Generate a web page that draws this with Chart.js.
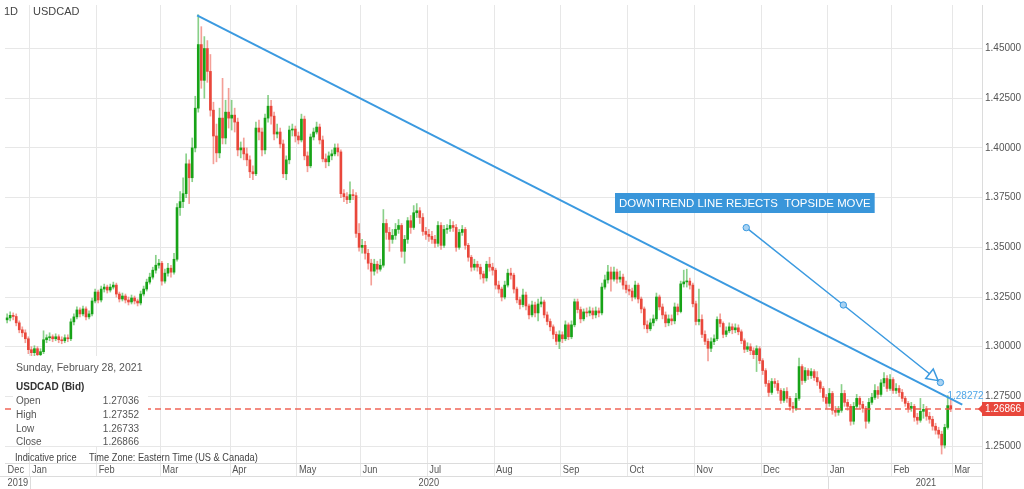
<!DOCTYPE html>
<html>
<head>
<meta charset="utf-8">
<title>USDCAD 1D</title>
<script src="https://cdn.jsdelivr.net/npm/chart.js@4.4.1/dist/chart.umd.min.js"></script>
<style>
  html, body { margin: 0; padding: 0; background: #fff; }
  #wrap { width: 1024px; height: 489px; position: relative; }
</style>
</head>
<body>
<div id="wrap"><canvas id="fxChart" width="1024" height="489"></canvas></div>
<script>
// daily USDCAD bars, Dec 2019 .. Feb 2021, prices in pips (13145 = 1.3145)
const opens = [
  13135,13145,13158,13152,13120,13085,13070,13040,
  12985,12970,12990,12960,12975,13035,13045,13050,13040,13050,13035,13030,13045,13040,13125,13150,13185,13165,13190,13150,13165,13230,13275,
  13235,13290,13300,13285,13300,13310,13265,13240,13255,13235,13225,13245,13230,13220,13265,13290,13325,13350,13385,13410,
  13420,13330,13370,13395,13375,13440,13700,13730,13770,13920,13850,14000,14200,14520,14340,14500,14385,14190,14060,13975,14150,14050,
  14180,14150,14165,14130,13990,14000,13970,13940,13880,13870,14100,14080,13990,14150,14210,14160,14070,14080,14020,13870,13940,14090,
  14095,14060,14040,14145,13960,13910,14055,14080,14105,14040,13945,13930,13960,13970,14000,13980,13770,13755,13740,13765,13760,
  13570,13500,13510,13470,13420,13380,13415,13390,13410,13620,13575,13540,13560,13590,13610,13480,13540,13634,13600,13674,13684,13650,
  13580,13565,13555,13540,13520,13610,13510,13590,13595,13610,13600,13500,13575,13590,13510,13450,13400,13415,13400,13366,13346,13415,13400,
  13385,13310,13290,13250,13310,13370,13360,13290,13236,13212,13260,13205,13160,13210,13170,13215,13225,13160,13127,13100,13062,
  13027,13060,13040,13110,13050,13110,13226,13187,13140,13175,13170,13180,13160,13180,13170,13300,13336,13376,13340,13376,13340,13350,
  13310,13288,13280,13250,13310,13240,13190,13110,13090,13120,13140,13250,13200,13160,13120,13140,13130,13200,13177,13316,13326,13330,
  13310,13216,13127,13137,13062,13027,12992,13025,13040,13137,13117,13062,13080,13100,13085,13095,13075,13030,12987,13000,12980,
  12960,12990,12930,12880,12815,12770,12825,12815,12780,12730,12775,12740,12700,12690,12740,12900,12830,12880,12855,12875,12845,12823,12790,
  12745,12715,12765,12680,12670,12680,12765,12720,12700,12625,12700,12740,12710,12690,12625,12720,12745,12780,12760,12818,12840,
  12790,12835,12780,12790,12770,12740,12715,12690,12700,12645,12630,12675,12685,12650,12635,12600,12580,12560,12505,12594,12703.6
];
const highs = [
  13165,13175,13170,13165,13130,13100,13085,13050,
  13000,13005,13000,12990,13080,13060,13070,13060,13065,13060,13050,13060,13060,13140,13165,13200,13195,13205,13200,13180,13245,13290,13285,
  13305,13315,13310,13315,13325,13320,13275,13270,13265,13250,13260,13255,13240,13280,13305,13340,13370,13400,13460,13440,
  13430,13390,13420,13410,13470,13720,13780,13850,13970,13940,14050,14260,14670,14610,14560,14540,14470,14230,14120,14200,14350,14240,
  14300,14240,14200,14150,14030,14050,14000,13960,13910,14130,14140,14100,14170,14265,14240,14180,14120,14100,14040,13960,14110,14120,
  14110,14080,14170,14160,13980,14070,14100,14130,14120,14060,13970,13980,13990,14020,14020,13990,13790,13775,13830,13790,13775,
  13620,13540,13530,13490,13440,13440,13430,13440,13690,13640,13600,13590,13620,13640,13620,13560,13650,13660,13710,13720,13700,13670,
  13600,13590,13580,13560,13630,13625,13610,13615,13640,13630,13615,13590,13610,13600,13520,13460,13440,13430,13415,13380,13430,13450,13420,
  13395,13330,13300,13330,13390,13395,13370,13300,13250,13290,13275,13215,13230,13225,13240,13250,13235,13175,13140,13110,13075,
  13080,13075,13130,13120,13130,13240,13240,13200,13190,13195,13200,13195,13200,13195,13320,13360,13410,13400,13400,13390,13380,13365,
  13330,13310,13295,13330,13320,13250,13200,13130,13140,13160,13270,13260,13215,13175,13160,13160,13220,13215,13330,13385,13390,13345,
  13320,13230,13290,13160,13080,13040,13045,13060,13150,13165,13125,13100,13120,13115,13115,13110,13085,13040,13020,13015,12995,
  13005,13000,12940,12890,12830,12840,12840,12830,12790,12790,12795,12750,12720,12765,12943,12910,12895,12890,12890,12885,12875,12830,12800,
  12760,12790,12775,12700,12700,12810,12780,12735,12710,12720,12760,12750,12725,12700,12740,12765,12810,12800,12835,12870,12855,
  12860,12845,12815,12805,12785,12750,12725,12720,12710,12665,12740,12710,12700,12670,12650,12615,12595,12575,12610,12754,12735.2
];
const lows = [
  13120,13130,13135,13105,13070,13050,13020,12965,
  12950,12955,12945,12950,12965,13020,13030,13025,13030,13020,13015,13020,13025,13030,13110,13140,13150,13155,13135,13140,13155,13220,13220,
  13225,13275,13270,13275,13290,13250,13225,13230,13220,13210,13215,13215,13205,13210,13255,13280,13315,13340,13370,13395,
  13310,13320,13355,13350,13365,13430,13660,13700,13750,13720,13830,13980,14180,14300,14250,14330,14160,13920,13930,13950,14020,14020,
  14100,14090,14080,13960,13950,13940,13910,13850,13840,13860,14040,13960,13970,14130,14120,14040,14050,14000,13850,13840,13920,14060,
  14030,14020,14030,13940,13880,13900,14040,14070,14020,13930,13900,13910,13940,13960,13960,13750,13730,13720,13725,13740,13550,
  13480,13470,13440,13390,13310,13360,13370,13380,13400,13540,13480,13520,13540,13570,13450,13420,13520,13570,13590,13650,13620,13560,
  13540,13530,13520,13500,13505,13490,13500,13570,13580,13580,13480,13490,13560,13490,13430,13380,13385,13380,13340,13320,13330,13380,13360,
  13290,13270,13230,13240,13300,13340,13270,13220,13190,13200,13185,13140,13150,13150,13130,13200,13145,13110,13080,13040,13010,
  12990,13020,13030,13035,13040,13100,13170,13120,13130,13150,13155,13140,13145,13150,13160,13290,13320,13280,13330,13320,13325,13290,
  13270,13260,13230,13240,13220,13170,13090,13070,13080,13105,13130,13185,13140,13100,13105,13110,13115,13160,13170,13300,13300,13290,
  13200,13110,13110,13045,13010,12928,12975,13010,13030,13100,13045,13050,13070,13065,13070,13060,13015,12970,12975,12960,12940,
  12875,12915,12860,12800,12750,12760,12795,12765,12715,12720,12720,12680,12670,12680,12730,12810,12820,12835,12840,12830,12805,12770,12725,
  12690,12700,12660,12650,12655,12670,12700,12680,12605,12610,12690,12690,12670,12590,12615,12710,12735,12740,12750,12800,12775,
  12780,12765,12765,12750,12725,12700,12670,12675,12625,12610,12620,12640,12630,12615,12580,12560,12540,12460,12490,12585,12673.3
];
const closes = [
  13145,13158,13152,13120,13085,13070,13040,12985,
  12970,12990,12960,12975,13035,13045,13050,13040,13050,13035,13030,13045,13040,13125,13150,13185,13165,13190,13150,13165,13230,13275,13235,
  13290,13300,13285,13300,13310,13265,13240,13255,13235,13225,13245,13230,13220,13265,13290,13325,13350,13385,13410,13420,
  13330,13370,13395,13375,13440,13700,13730,13770,13920,13850,14000,14200,14520,14340,14500,14385,14190,14060,13975,14150,14050,14180,
  14150,14165,14130,13990,14000,13970,13940,13880,13870,14100,14080,13990,14150,14210,14160,14070,14080,14020,13870,13940,14090,14095,
  14060,14040,14145,13960,13910,14055,14080,14105,14040,13945,13930,13960,13970,14000,13980,13770,13755,13740,13765,13760,13570,
  13500,13510,13470,13420,13380,13415,13390,13410,13620,13575,13540,13560,13590,13610,13480,13540,13634,13600,13674,13684,13650,13580,
  13565,13555,13540,13520,13610,13510,13590,13595,13610,13600,13500,13575,13590,13510,13450,13400,13415,13400,13366,13346,13415,13400,13385,
  13310,13290,13250,13310,13370,13360,13290,13236,13212,13260,13205,13160,13210,13170,13215,13225,13160,13127,13100,13062,13027,
  13060,13040,13110,13050,13110,13226,13187,13140,13175,13170,13180,13160,13180,13170,13300,13336,13376,13340,13376,13340,13350,13310,
  13288,13280,13250,13310,13240,13190,13110,13090,13120,13140,13250,13200,13160,13120,13140,13130,13200,13177,13316,13326,13330,13310,
  13216,13127,13137,13062,13027,12992,13025,13040,13137,13117,13062,13080,13100,13085,13095,13075,13030,12987,13000,12980,12960,
  12990,12930,12880,12815,12770,12825,12815,12780,12730,12775,12740,12700,12690,12740,12900,12830,12880,12855,12875,12845,12823,12790,12745,
  12715,12765,12680,12670,12680,12765,12720,12700,12625,12700,12740,12710,12690,12625,12720,12745,12780,12760,12818,12840,12790,
  12835,12780,12790,12770,12740,12715,12690,12700,12645,12630,12675,12685,12650,12635,12600,12580,12560,12505,12594,12703.6,12686.6
];

const priceTicks = [1.25, 1.275, 1.3, 1.325, 1.35, 1.375, 1.4, 1.425, 1.45];
const monthLabels = ['Dec', 'Jan', 'Feb', 'Mar', 'Apr', 'May', 'Jun', 'Jul', 'Aug', 'Sep', 'Oct', 'Nov', 'Dec', 'Jan', 'Feb', 'Mar'];
// month boundaries on the bar-index axis
const monthTicks = [-0.5, 7.5, 29.5, 50.5, 73.5, 95.5, 116.5, 138.5, 160.5, 182.5, 204.5, 226.5, 248.5, 270.5, 291.5, 311.5];
const yearLabels = ['2019', '2020', '2021'];
const yearTicks = [-0.5, 7.5, 270.5];

// drawn lines (bar index, price)
const trendLine = [{x: 62.6, y: 1.4667}, {x: 314.8, y: 1.2709}];
const arrowLine = [{x: 243.6, y: 1.3599}, {x: 275.6, y: 1.3210}, {x: 307.6, y: 1.2820}];
const trendLabel = '1.28272';
const noteText = 'DOWNTREND LINE REJECTS  TOPSIDE MOVE';

const infoDate = 'Sunday, February 28, 2021';
const infoTitle = 'USDCAD (Bid)';
const infoNames = ['Open', 'High', 'Low', 'Close'];
const infoValues = ['1.27036', '1.27352', '1.26733', '1.26866'];

const UP = '#17a317';
const DOWN = '#e9473b';
const UP_WICK = 'rgba(40,170,40,0.55)';
const DOWN_WICK = 'rgba(235,80,65,0.55)';
const BLUE = '#3b9ae0';
const GRID = '#e7e7e7';
const FONT = '"Liberation Sans", Arial, sans-serif';

const lastClose = closes[closes.length - 1] / 1e4;
const isUp = i => closes[i] >= opens[i];
const bodies = closes.map((c, i) => ({x: i, y: [opens[i] / 1e4, c / 1e4]}));
const wicks = closes.map((c, i) => ({x: i, y: [lows[i] / 1e4, highs[i] / 1e4]}));

// no narrow face installed, so squeeze the regular one
function narrowText(ctx, text, x, y, squeeze) {
    ctx.save();
    ctx.translate(x, y);
    ctx.scale(squeeze, 1);
    ctx.fillText(text, 0, 0);
    ctx.restore();
}

const overlay = {
    id: 'overlay',
    afterDraw(chart) {
        const ctx = chart.ctx;
        const area = chart.chartArea;
        const xs = chart.scales.x;
        const ys = chart.scales.y;
        ctx.save();

        // last price line + tag
        const py = Math.round(ys.getPixelForValue(lastClose));
        ctx.strokeStyle = 'rgba(238,84,70,0.9)';
        ctx.lineWidth = 1.6;
        ctx.setLineDash([6, 4]);
        ctx.beginPath();
        ctx.moveTo(area.left, py);
        ctx.lineTo(area.right, py);
        ctx.stroke();
        ctx.setLineDash([]);
        ctx.fillStyle = '#e8473c';
        ctx.fillRect(area.right, py - 7, 42, 14);
        ctx.beginPath();
        ctx.moveTo(area.right - 4, py);
        ctx.lineTo(area.right, py - 4);
        ctx.lineTo(area.right, py + 4);
        ctx.fill();
        ctx.fillStyle = '#fff';
        ctx.font = '10px ' + FONT;
        ctx.textBaseline = 'middle';
        ctx.textAlign = 'left';
        ctx.fillText(infoValues[3], area.right + 3, py);

        // arrow head on the drawn arrow
        const p1 = {x: xs.getPixelForValue(arrowLine[1].x), y: ys.getPixelForValue(arrowLine[1].y)};
        const p2 = {x: xs.getPixelForValue(arrowLine[2].x), y: ys.getPixelForValue(arrowLine[2].y)};
        const len = Math.hypot(p2.x - p1.x, p2.y - p1.y);
        const dx = (p2.x - p1.x) / len, dy = (p2.y - p1.y) / len;
        const tip = {x: p2.x - dx * 3, y: p2.y - dy * 3};
        const base = {x: tip.x - dx * 11, y: tip.y - dy * 11};
        ctx.strokeStyle = BLUE;
        ctx.lineWidth = 1.5;
        ctx.fillStyle = '#fff';
        ctx.beginPath();
        ctx.moveTo(tip.x, tip.y);
        ctx.lineTo(base.x - dy * 6, base.y + dx * 6);
        ctx.lineTo(base.x + dy * 6, base.y - dx * 6);
        ctx.closePath();
        ctx.fill();
        ctx.stroke();

        // price label near arrow end
        ctx.fillStyle = '#4fa6e8';
        ctx.font = '10px ' + FONT;
        ctx.fillText(trendLabel, p2.x + 7, p2.y + 14);

        // note box
        ctx.font = '11.4px ' + FONT;
        const tw = ctx.measureText(noteText).width;
        ctx.fillStyle = '#3996da';
        ctx.fillRect(615, 193, tw + 8, 20);
        ctx.fillStyle = '#fff';
        ctx.fillText(noteText, 619, 203.5);

        // instrument caption
        ctx.fillStyle = '#444';
        ctx.font = '11px ' + FONT;
        ctx.fillText('1D', 4, 12);
        ctx.fillText('USDCAD', 33, 12);

        // info box
        ctx.fillStyle = '#fff';
        ctx.fillRect(13, 356, 135, 90);
        ctx.fillStyle = '#555';
        ctx.font = '10.5px ' + FONT;
        ctx.fillText(infoDate, 16, 368);
        ctx.fillStyle = '#333';
        ctx.font = 'bold 10px ' + FONT;
        ctx.fillText(infoTitle, 16, 387);
        ctx.font = '10px ' + FONT;
        const rowsY = [401.5, 415.5, 429, 442.5];
        infoNames.forEach((n, i) => {
            ctx.fillStyle = '#555';
            ctx.textAlign = 'left';
            ctx.fillText(n, 16, rowsY[i]);
            ctx.textAlign = 'right';
            ctx.fillText(infoValues[i], 139, rowsY[i]);
        });
        ctx.textAlign = 'left';
        ctx.fillStyle = '#444';
        ctx.font = '11px ' + FONT;
        narrowText(ctx, 'Indicative price', 15, 457.5, 0.84);
        narrowText(ctx, 'Time Zone: Eastern Time (US & Canada)', 89, 457.5, 0.84);

        // time axis rows
        ctx.strokeStyle = '#dcdcdc';
        ctx.lineWidth = 1;
        ctx.beginPath();
        ctx.moveTo(0, 476.5); ctx.lineTo(area.right, 476.5);
        ctx.moveTo(area.right + 0.5, area.bottom); ctx.lineTo(area.right + 0.5, 489);
        yearTicks.slice(1).forEach(t => {
            const px = Math.round(xs.getPixelForValue(t)) + 0.5;
            ctx.moveTo(px, 476); ctx.lineTo(px, 489);
        });
        ctx.stroke();

        ctx.fillStyle = '#555';
        ctx.font = '11px ' + FONT;
        monthLabels.forEach((m, i) => {
            const px = Math.max(xs.getPixelForValue(monthTicks[i]), 0);
            narrowText(ctx, m, px + 2, 470, 0.84);
        });
        yearLabels.forEach((yl, i) => {
            const a = Math.max(xs.getPixelForValue(yearTicks[i]), 0);
            if (i === 0) {
                narrowText(ctx, yl, a + 2, 482.5, 0.84);
                return;
            }
            const b = i + 1 < yearTicks.length ? xs.getPixelForValue(yearTicks[i + 1]) : chart.width;
            const w = ctx.measureText(yl).width * 0.84;
            narrowText(ctx, yl, (a + b) / 2 - w / 2, 482.5, 0.84);
        });
        ctx.restore();
    }
};

const ctx = document.getElementById('fxChart').getContext('2d');
new Chart(ctx, {
    type: 'bar',
    data: {
        datasets: [
            {
                type: 'line',
                data: trendLine,
                borderColor: BLUE,
                borderWidth: 2,
                pointRadius: 0,
                order: 0
            },
            {
                type: 'line',
                data: arrowLine,
                borderColor: BLUE,
                borderWidth: 1.5,
                pointRadius: 3.2,
                pointBackgroundColor: '#a8d2f2',
                pointBorderColor: BLUE,
                pointBorderWidth: 1,
                order: 0
            },
            {
                data: bodies,
                grouped: false,
                barThickness: 2,
                minBarLength: 1,
                backgroundColor: c => isUp(c.dataIndex) ? UP : DOWN,
                order: 1
            },
            {
                data: wicks,
                grouped: false,
                barThickness: 1,
                backgroundColor: c => isUp(c.dataIndex) ? UP_WICK : DOWN_WICK,
                order: 2
            }
        ]
    },
    options: {
        responsive: false,
        animation: false,
        devicePixelRatio: 1,
        layout: { padding: 0 },
        plugins: {
            legend: { display: false },
            tooltip: { enabled: false }
        },
        scales: {
            x: {
                type: 'linear',
                min: -0.7,
                max: 321.3,
                offset: false,
                afterBuildTicks: axis => { axis.ticks = monthTicks.slice(1).map(v => ({value: v})); },
                afterFit: axis => { axis.height = 26; axis.paddingLeft = 0; axis.paddingRight = 0; },
                ticks: { display: false },
                grid: { color: GRID, offset: false, drawTicks: true, tickLength: 13 },
                border: { color: '#dcdcdc' }
            },
            y: {
                position: 'right',
                min: 1.2415,
                max: 1.4719,
                afterBuildTicks: axis => { axis.ticks = priceTicks.map(v => ({value: v})); },
                afterFit: axis => { axis.width = 42; axis.paddingTop = 0; axis.paddingBottom = 0; },
                ticks: {
                    callback: v => v.toFixed(5),
                    color: '#555',
                    font: { family: FONT, size: 10 },
                    padding: 3
                },
                grid: { color: GRID, drawTicks: false },
                border: { color: '#dcdcdc' }
            }
        }
    },
    plugins: [overlay]
});
</script>
</body>
</html>
